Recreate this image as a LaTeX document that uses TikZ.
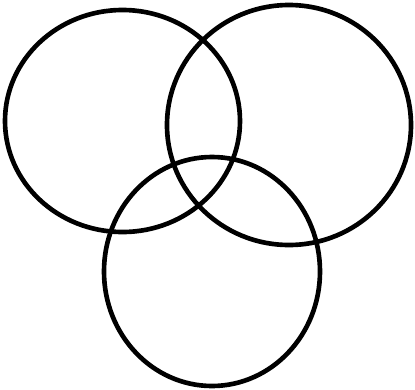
\documentclass[tikz,border=0pt]{standalone}
\usepackage{tikz}
\tikzset{
  every picture/.style={line join=round, line cap=round},
  ring/.style={draw=black, line width=3.3pt},
}
\begin{document}
\begin{tikzpicture}[x=0.025cm,y=-0.025cm]
\useasboundingbox (0,0) rectangle (415,389);
\draw[ring] (122.5,121.0) ellipse [x radius=117.5, y radius=111.0];
\draw[ring] (289.0,125.0) ellipse [x radius=122.0, y radius=120.0];
\draw[ring] (212.0,271.5) ellipse [x radius=108.0, y radius=114.5];
\end{tikzpicture}
\end{document}
